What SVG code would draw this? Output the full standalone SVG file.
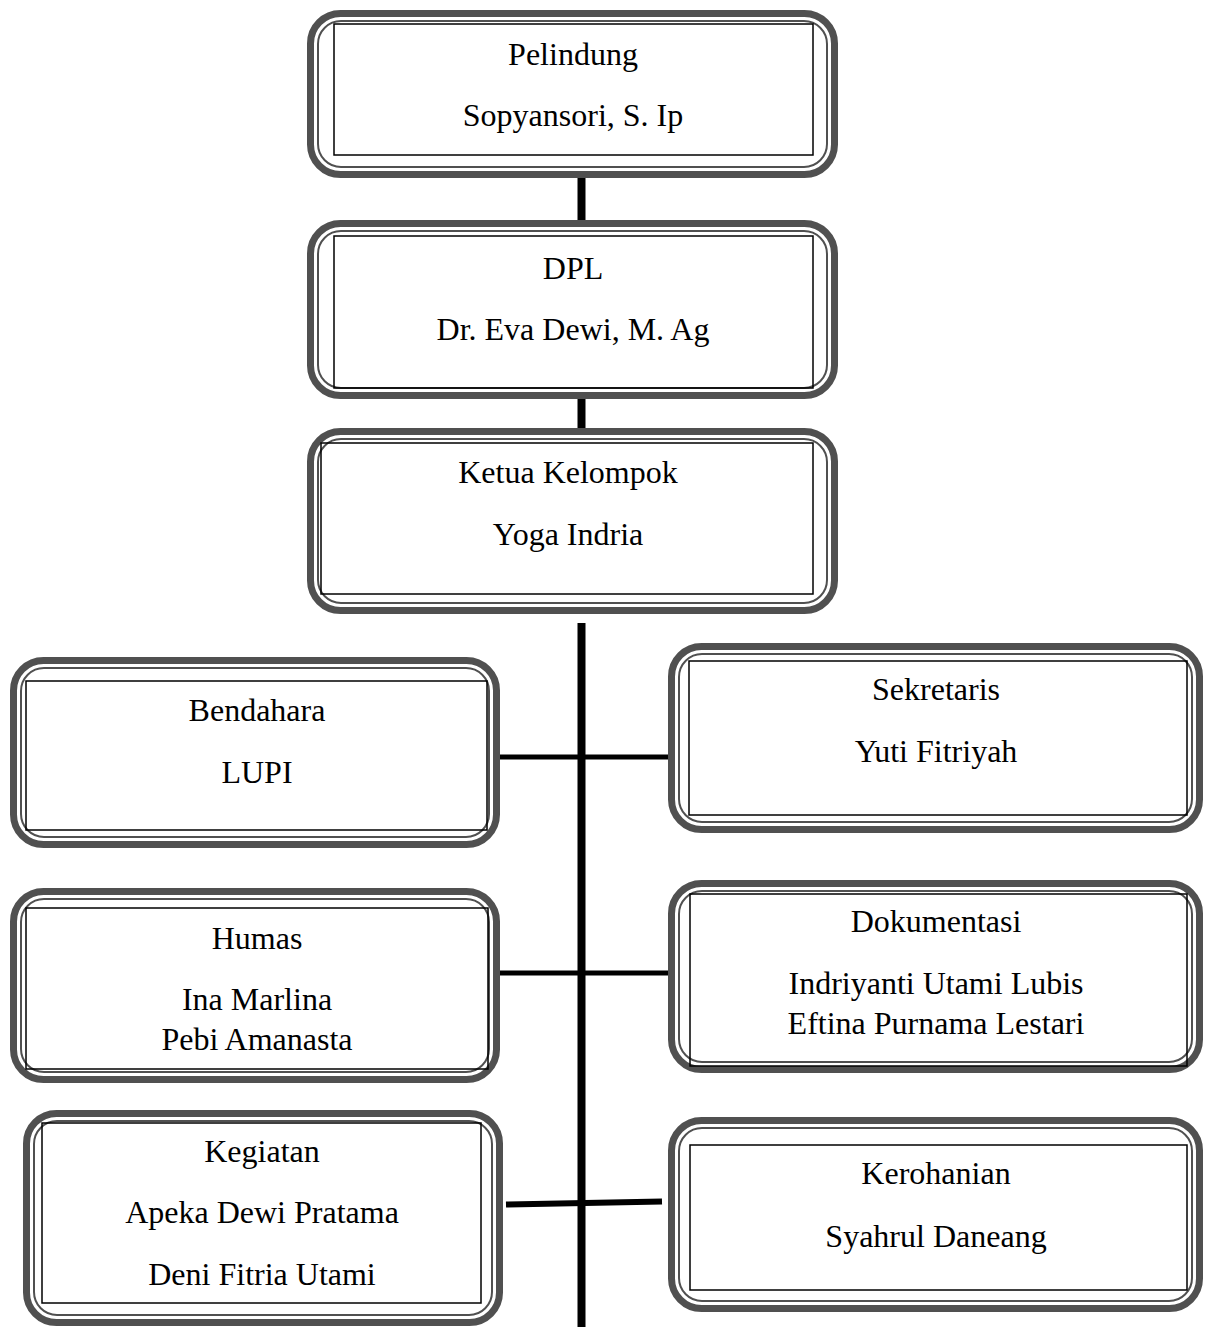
<svg xmlns="http://www.w3.org/2000/svg" width="1208" height="1327" viewBox="0 0 1208 1327">
<style>
.o{fill:#fff;stroke:#505050;stroke-width:7}
.m{fill:none;stroke:#505050;stroke-width:2}
.i{fill:none;stroke:#000;stroke-width:1.5}
.t{font-family:"Liberation Serif","Times New Roman",serif;font-size:32px;fill:#000;text-anchor:middle}
.c{stroke:#000;fill:none}
</style>
<rect width="1208" height="1327" fill="#fff"/>
<g id="connectors">
<line class="c" x1="581.5" y1="176" x2="581.5" y2="222" stroke-width="8"/>
<line class="c" x1="581.5" y1="396" x2="581.5" y2="430" stroke-width="8"/>
<line class="c" x1="581.5" y1="623" x2="581.5" y2="1327" stroke-width="8"/>
<line class="c" x1="500" y1="757" x2="668" y2="757" stroke-width="5"/>
<line class="c" x1="500" y1="973" x2="668" y2="973" stroke-width="5"/>
<line class="c" x1="506" y1="1204.5" x2="662" y2="1201.5" stroke-width="6"/>
</g>
<g id="pelindung">
<rect class="o" x="310.5" y="13.5" width="524" height="161" rx="30"/>
<rect class="m" x="318" y="21" width="509" height="146" rx="23"/>
<rect class="i" x="334" y="24" width="479" height="131"/>
<text class="t" x="573" y="65">Pelindung</text>
<text class="t" x="573" y="126">Sopyansori, S. Ip</text>
</g>
<g id="dpl">
<rect class="o" x="310.5" y="223.5" width="524" height="172" rx="30"/>
<rect class="m" x="318" y="231" width="509" height="157" rx="23"/>
<rect class="i" x="334" y="236" width="479" height="152"/>
<text class="t" x="573" y="279">DPL</text>
<text class="t" x="573" y="340">Dr. Eva Dewi, M. Ag</text>
</g>
<g id="ketua">
<rect class="o" x="310.5" y="431.5" width="524" height="179" rx="30"/>
<rect class="m" x="318" y="439" width="509" height="164" rx="23"/>
<rect class="i" x="321" y="443" width="492" height="151"/>
<text class="t" x="568" y="483">Ketua Kelompok</text>
<text class="t" x="568" y="545">Yoga Indria</text>
</g>
<g id="bendahara">
<rect class="o" x="13.5" y="660.5" width="483" height="184" rx="30"/>
<rect class="m" x="21" y="668" width="468" height="169" rx="23"/>
<rect class="i" x="26" y="681" width="461" height="149"/>
<text class="t" x="257" y="721">Bendahara</text>
<text class="t" x="257" y="783">LUPI</text>
</g>
<g id="sekretaris">
<rect class="o" x="671.5" y="646.5" width="528" height="183" rx="30"/>
<rect class="m" x="679" y="654" width="513" height="168" rx="23"/>
<rect class="i" x="689" y="661" width="498" height="154"/>
<text class="t" x="936" y="700">Sekretaris</text>
<text class="t" x="936" y="762">Yuti Fitriyah</text>
</g>
<g id="humas">
<rect class="o" x="13.5" y="891.5" width="483" height="188" rx="30"/>
<rect class="m" x="21" y="899" width="468" height="173" rx="23"/>
<rect class="i" x="26" y="908" width="462" height="161"/>
<text class="t" x="257" y="949">Humas</text>
<text class="t" x="257" y="1010">Ina Marlina</text>
<text class="t" x="257" y="1050">Pebi Amanasta</text>
</g>
<g id="dokumentasi">
<rect class="o" x="671.5" y="883.5" width="528" height="186" rx="30"/>
<rect class="m" x="679" y="891" width="513" height="171" rx="23"/>
<rect class="i" x="690" y="894" width="497" height="172"/>
<text class="t" x="936" y="932">Dokumentasi</text>
<text class="t" x="936" y="994">Indriyanti Utami Lubis</text>
<text class="t" x="936" y="1034">Eftina Purnama Lestari</text>
</g>
<g id="kegiatan">
<rect class="o" x="26.5" y="1113.5" width="473" height="209" rx="30"/>
<rect class="m" x="34" y="1121" width="458" height="194" rx="23"/>
<rect class="i" x="42" y="1123" width="439" height="180"/>
<text class="t" x="262" y="1162">Kegiatan</text>
<text class="t" x="262" y="1223">Apeka Dewi Pratama</text>
<text class="t" x="262" y="1285">Deni Fitria Utami</text>
</g>
<g id="kerohanian">
<rect class="o" x="671.5" y="1120.5" width="528" height="188" rx="30"/>
<rect class="m" x="679" y="1128" width="513" height="173" rx="23"/>
<rect class="i" x="690" y="1145" width="497" height="145"/>
<text class="t" x="936" y="1184">Kerohanian</text>
<text class="t" x="936" y="1247">Syahrul Daneang</text>
</g>
</svg>
